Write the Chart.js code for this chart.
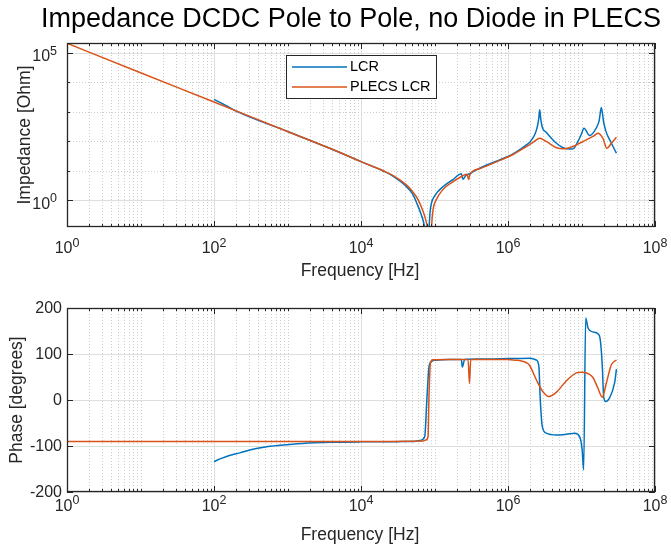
<!DOCTYPE html>
<html>
<head>
<meta charset="utf-8">
<title>Impedance DCDC Pole to Pole</title>
<script src="https://cdn.jsdelivr.net/npm/chart.js@4.4.1/dist/chart.umd.min.js"></script>
<style>
body { margin: 0; background: #fff; }
.pane { position: absolute; left: 0; width: 671px; }
</style>
</head>
<body>
<div class="pane" style="top:0;height:280px"><canvas id="magChart"></canvas></div>
<div class="pane" style="top:280px;height:269px"><canvas id="phaseChart"></canvas></div>
<script>
// measured LCR sweep, |Z| in Ohm
var lcrMagFreq = [100, 126, 158, 204, 1000, 3750, 1e4, 2e4, 2.82e4, 3.98e4, 5.0e4, 5.75e4, 6.61e4, 7.24e4, 7.59e4, 8.0e4, 8.41e4, 8.71e4, 9.08e4, 1e5,
  1.31e5, 1.78e5, 2.32e5, 2.44e5, 2.63e5, 3.16e5, 4.12e5, 6.95e5, 1.17e6, 1.78e6, 2.0e6, 2.34e6, 2.51e6, 2.63e6, 2.7e6, 2.79e6, 2.95e6, 3.31e6, 4.56e6, 5.62e6,
  6.92e6, 7.66e6, 8.95e6, 1e7, 1.08e7, 1.29e7, 1.58e7, 1.74e7, 1.86e7, 2.0e7, 2.14e7, 2.55e7, 2.99e7];
var lcrMag = [2630, 1950, 1445, 1023, 214, 57.5, 20.4, 9.8, 6.2, 3.2, 1.66, 0.79, 0.32, 0.14, 0.05, 0.01, 0.1, 0.4, 0.79, 1.38,
  2.9, 5.0, 7.9, 5.1, 6.6, 8.5, 12.3, 21, 37, 75, 95, 178, 316, 630, 1175, 560, 280, 200, 85, 60,
  54, 55, 98, 178, 275, 155, 275, 500, 1380, 447, 224, 85, 39];

// PLECS model, |Z| in Ohm
var plecsMagFreq = [1, 10, 100, 1000, 3750, 1e4, 2.0e4, 2.82e4, 4.15e4, 5.0e4, 5.97e4, 6.92e4, 7.59e4, 8.32e4, 8.79e4, 9.12e4, 9.55e4, 1.05e5, 1.31e5, 1.78e5,
  2.24e5, 2.75e5, 2.92e5, 3.02e5, 4.12e5, 6.95e5, 1.17e6, 1.78e6, 2.24e6, 2.7e6, 3.31e6, 4.56e6, 5.6e6, 7.66e6, 1.05e7, 1.43e7, 1.68e7, 1.95e7, 2.22e7, 2.55e7,
  2.99e7];
var plecsMag = [2.09e5, 2.09e4, 2140, 214, 57.5, 20.4, 10, 6.6, 3.3, 2.0, 1.05, 0.45, 0.22, 0.063, 0.01, 0.126, 0.47, 1.0, 2.34, 4.2,
  6.0, 7.6, 5.0, 7.2, 11.7, 20, 35.5, 66, 95, 126, 98, 60, 55, 66, 98, 145, 186, 126, 57.5, 85,
  136];

// phase in degrees
var lcrPhaseFreq = [100, 126, 158, 224, 316, 501, 794, 1585, 3981, 1e4, 3.16e4, 5.62e4, 6.31e4, 7.35e4, 7.91e4, 8.41e4, 9.08e4, 1.06e5, 1.58e5, 2.32e5,
  2.39e5, 2.57e5, 3.98e5, 1e6, 2.0e6, 2.43e6, 2.63e6, 2.75e6, 2.93e6, 3.31e6, 4.56e6, 6.24e6, 8.09e6, 9.46e6, 1.02e7, 1.07e7, 1.14e7, 1.23e7, 1.43e7, 1.67e7,
  1.80e7, 1.92e7, 2.0e7, 2.14e7, 2.40e7, 2.82e7, 2.99e7];
var lcrPhase = [-134, -127, -121, -115, -108, -102, -98.5, -94.5, -92, -91, -90.5, -89.5, -88, -80, 7, 72, 83.5, 86.5, 88, 88,
  71.5, 88, 89, 90, 91, 87, 73, 0, -58, -72, -76, -74.5, -72.5, -80, -108, -152, 178, 156, 148, 144,
  131, 73, 7.5, -3, 4, 37, 67];

var plecsPhaseFreq = [1, 1e4, 7.08e4, 7.59e4, 8.17e4, 8.41e4, 8.79e4, 9.55e4, 1.58e5, 2.86e5, 2.99e5, 3.11e5, 1e6, 1.26e6, 1.51e6, 1.78e6, 1.97e6, 2.43e6, 2.99e6, 3.61e6,
  4.56e6, 6.24e6, 8.53e6, 1e7, 1.11e7, 1.43e7, 1.67e7, 1.92e7, 2.18e7, 2.55e7, 2.99e7];
var plecsPhase = [-90, -90, -89, -87, -80, 7, 80, 87.5, 88, 88, 36, 88, 88, 86.5, 85, 81, 75, 44, 18, 7.5,
  17, 42, 59, 60.5, 60, 49, 26, 6, 37, 76.5, 87];

// ticks
var freqTicks = [1, 100, 1e4, 1e6, 1e8];
var freqTickExp = ['0', '2', '4', '6', '8'];
var magTicks = [1, 1e5];
var magTickExp = ['0', '5'];
var magMinor = [10, 100, 1000, 1e4];
var phaseTicks = [-200, -100, 0, 100, 200];

var freqMinor = [];
for (var e = 0; e < 8; e++) {
  for (var k = 1; k < 10; k++) {
    var v = k * Math.pow(10, e);
    if (freqTicks.indexOf(v) < 0) freqMinor.push(v);
  }
}

var FONT = '"Liberation Sans", Arial, Helvetica, sans-serif';
var INK = '#262626';
var blue = '#0072BD', orange = '#D95319';

function pts(xs, ys) {
  return xs.map(function (x, i) { return { x: x, y: ys[i] }; });
}

// "10" with a raised exponent, y is the baseline of the "10"
function powLabel(ctx, exp, x, y, align) {
  ctx.font = '16px ' + FONT;
  var wb = ctx.measureText('10').width;
  ctx.font = '12.5px ' + FONT;
  var we = ctx.measureText(exp).width;
  var x0 = align === 'center' ? x - (wb + we) / 2 : x - (wb + we);
  ctx.textAlign = 'left';
  ctx.textBaseline = 'alphabetic';
  ctx.font = '16px ' + FONT;
  ctx.fillText('10', x0, y);
  ctx.font = '12.5px ' + FONT;
  ctx.fillText(exp, x0 + wb, y - 6.5);
}

function axesPlugin(cfg) {
  return {
    id: 'matlabAxes',
    beforeDatasetsDraw: function (chart) {
      var ctx = chart.ctx, a = chart.chartArea;
      var xs = chart.scales.x, ys = chart.scales.y;
      ctx.save();
      ctx.lineWidth = 1;
      ctx.strokeStyle = '#cdcdcd';
      ctx.setLineDash([1, 2]);
      cfg.xMinor.forEach(function (v) {
        var p = Math.round(xs.getPixelForValue(v)) + 0.5;
        ctx.beginPath(); ctx.moveTo(p, a.top); ctx.lineTo(p, a.bottom); ctx.stroke();
      });
      cfg.yMinor.forEach(function (v) {
        var p = Math.round(ys.getPixelForValue(v)) + 0.5;
        ctx.beginPath(); ctx.moveTo(a.left, p); ctx.lineTo(a.right, p); ctx.stroke();
      });
      ctx.setLineDash([]);
      ctx.strokeStyle = '#dedede';
      cfg.xMajor.forEach(function (v) {
        var p = Math.round(xs.getPixelForValue(v)) + 0.5;
        ctx.beginPath(); ctx.moveTo(p, a.top); ctx.lineTo(p, a.bottom); ctx.stroke();
      });
      cfg.yMajor.forEach(function (v) {
        var p = Math.round(ys.getPixelForValue(v)) + 0.5;
        ctx.beginPath(); ctx.moveTo(a.left, p); ctx.lineTo(a.right, p); ctx.stroke();
      });
      ctx.restore();
    },
    afterDatasetsDraw: function (chart) {
      var ctx = chart.ctx, a = chart.chartArea;
      var xs = chart.scales.x, ys = chart.scales.y;
      ctx.save();
      ctx.strokeStyle = INK;
      ctx.fillStyle = INK;
      ctx.lineWidth = 1;

      // tick marks on all four sides, pointing inward
      function xTick(v, len) {
        var p = Math.round(xs.getPixelForValue(v)) + 0.5;
        ctx.beginPath();
        ctx.moveTo(p, a.bottom); ctx.lineTo(p, a.bottom - len);
        ctx.moveTo(p, a.top); ctx.lineTo(p, a.top + len);
        ctx.stroke();
      }
      function yTick(v, len) {
        var p = Math.round(ys.getPixelForValue(v)) + 0.5;
        ctx.beginPath();
        ctx.moveTo(a.left, p); ctx.lineTo(a.left + len, p);
        ctx.moveTo(a.right, p); ctx.lineTo(a.right - len, p);
        ctx.stroke();
      }
      cfg.xMinor.forEach(function (v) { xTick(v, 3); });
      cfg.xMajor.forEach(function (v) { xTick(v, 6); });
      cfg.yMinor.forEach(function (v) { yTick(v, 3); });
      cfg.yMajor.forEach(function (v) { yTick(v, 6); });

      ctx.lineWidth = 1.3;
      ctx.strokeRect(a.left + 0.5, a.top + 0.5, a.right - a.left - 1, a.bottom - a.top - 1);

      // tick labels
      cfg.xMajor.forEach(function (v, i) {
        powLabel(ctx, cfg.xLabels[i], xs.getPixelForValue(v), cfg.xLabelY, 'center');
      });
      cfg.yMajor.forEach(function (v, i) {
        var p = ys.getPixelForValue(v);
        if (cfg.yPow) {
          powLabel(ctx, cfg.yLabels[i], a.left - 10, p + 8.5, 'right');
        } else {
          ctx.font = '16px ' + FONT;
          ctx.textAlign = 'right';
          ctx.textBaseline = 'middle';
          ctx.fillText(cfg.yLabels[i], a.left - 5, p + 1);
        }
      });

      // axis titles
      ctx.font = '17.5px ' + FONT;
      ctx.textAlign = 'center';
      ctx.textBaseline = 'middle';
      ctx.fillText(cfg.xTitle, (a.left + a.right) / 2 - 1, cfg.xTitleY);
      ctx.save();
      ctx.translate(cfg.yTitleX, (a.top + a.bottom) / 2);
      ctx.rotate(-Math.PI / 2);
      ctx.fillText(cfg.yTitle, 0, 0);
      ctx.restore();

      if (cfg.title) {
        ctx.font = '27px ' + FONT;
        ctx.textAlign = 'center';
        ctx.textBaseline = 'alphabetic';
        ctx.fillStyle = '#000';
        ctx.fillText(cfg.title, 351, 27);
        ctx.fillStyle = INK;
      }

      if (cfg.legend) {
        var L = cfg.legend;
        ctx.fillStyle = '#fff';
        ctx.fillRect(L.x, L.y, L.w, L.h);
        ctx.lineWidth = 1;
        ctx.strokeStyle = INK;
        ctx.strokeRect(L.x + 0.5, L.y + 0.5, L.w, L.h);
        ctx.font = '14.5px ' + FONT;
        ctx.textAlign = 'left';
        ctx.textBaseline = 'middle';
        chart.data.datasets.forEach(function (ds, i) {
          var yy = L.y + 12 + i * 20;
          ctx.strokeStyle = ds.borderColor;
          ctx.lineWidth = 1.5;
          ctx.beginPath(); ctx.moveTo(L.x + 6, yy); ctx.lineTo(L.x + 61, yy); ctx.stroke();
          ctx.fillStyle = '#000';
          ctx.fillText(ds.label, L.x + 64, yy);
        });
      }
      ctx.restore();
    }
  };
}

function baseOptions(padTop, padBottom, yScale) {
  return {
    responsive: true,
    maintainAspectRatio: false,
    animation: false,
    devicePixelRatio: 1,
    events: [],
    layout: { padding: { left: 67, right: 16, top: padTop, bottom: padBottom } },
    elements: { point: { radius: 0 }, line: { borderWidth: 1.5, cubicInterpolationMode: 'monotone' } },
    plugins: { legend: { display: false }, title: { display: false }, tooltip: { enabled: false } },
    scales: {
      x: { type: 'logarithmic', min: 1, max: 1e8, display: false },
      y: Object.assign({ display: false }, yScale)
    }
  };
}

new Chart('magChart', {
  type: 'line',
  data: {
    datasets: [
      { label: 'LCR', data: pts(lcrMagFreq, lcrMag), borderColor: blue, backgroundColor: blue, order: 1 },
      { label: 'PLECS LCR', data: pts(plecsMagFreq, plecsMag), borderColor: orange, backgroundColor: orange, order: 0 }
    ]
  },
  options: baseOptions(43, 53, { type: 'logarithmic', min: 0.1236, max: 2.13e5 }),
  plugins: [axesPlugin({
    xMajor: freqTicks, xMinor: freqMinor, xLabels: freqTickExp, xLabelY: 253,
    yMajor: magTicks, yMinor: magMinor, yLabels: magTickExp, yPow: true,
    xTitle: 'Frequency [Hz]', xTitleY: 271,
    yTitle: 'Impedance [Ohm]', yTitleX: 25,
    title: 'Impedance DCDC Pole to Pole, no Diode in PLECS',
    legend: { x: 286, y: 55, w: 150, h: 43 }
  })]
});

new Chart('phaseChart', {
  type: 'line',
  data: {
    datasets: [
      { label: 'LCR', data: pts(lcrPhaseFreq, lcrPhase), borderColor: blue, backgroundColor: blue, order: 1 },
      { label: 'PLECS LCR', data: pts(plecsPhaseFreq, plecsPhase), borderColor: orange, backgroundColor: orange, order: 0 }
    ]
  },
  options: baseOptions(28, 57, { type: 'linear', min: -200, max: 200 }),
  plugins: [axesPlugin({
    xMajor: freqTicks, xMinor: freqMinor, xLabels: freqTickExp, xLabelY: 230.5,
    yMajor: phaseTicks, yMinor: [], yLabels: phaseTicks.map(String), yPow: false,
    xTitle: 'Frequency [Hz]', xTitleY: 255.5,
    yTitle: 'Phase [degrees]', yTitleX: 17.5
  })]
});
</script>
</body>
</html>
